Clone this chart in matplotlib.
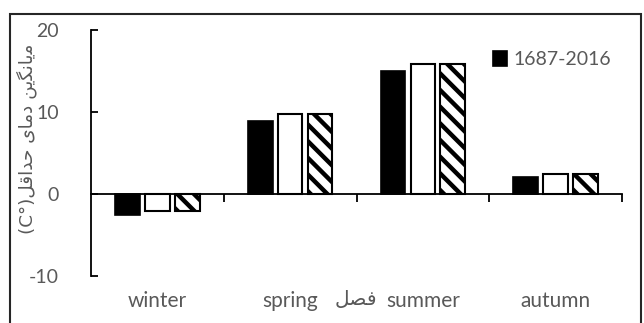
import numpy as np
import matplotlib
matplotlib.use("Agg")
import matplotlib.pyplot as plt
from matplotlib.patches import Rectangle
from matplotlib.transforms import blended_transform_factory

seasons = ["winter", "spring", "summer", "autumn"]
series_a = [-2.6, 8.9, 15.0, 2.1]   # black, 1687-2016
series_b = [-2.1, 9.8, 15.8, 2.5]   # white
series_c = [-2.1, 9.7, 15.8, 2.4]   # hatched
legend_label = "1687-2016"

# Persian text, written in visual order with presentation forms
# x label: "فصل", y label: "میانگین دمای حداقل(C°)"
xlabel_fa = "\uFEDE\uFEBC\uFED3"
ylabel_fa = ("(C°)" + "\uFEDE\uFED7\uFE8D\uFEAA\uFEA3" + " "
             + "\uFBFC\uFE8E\uFEE3\uFEA9" + " "
             + "\uFEE6\uFBFE\uFB95\uFEE7\uFE8E\uFBFE\uFEE3")

fam = ["Lato", "DejaVu Sans"]
grey = "#595959"
plt.rcParams["hatch.linewidth"] = 3.2
plt.rcParams["axes.unicode_minus"] = False

fig = plt.figure(figsize=(6.44, 3.23), dpi=100)
ax = fig.add_axes([91/644, 1-276/323, (622-91)/644, (276-30)/323])

x = np.arange(len(seasons))
w = 0.185
ax.bar(x - 0.225, series_a, w, color="black", edgecolor="black", lw=1.2, label=legend_label)
ax.bar(x, series_b, w, color="white", edgecolor="black", lw=1.5)
ax.bar(x + 0.225, series_c, w, color="white", edgecolor="black", lw=1.5, hatch="\\\\")

ax.set_xlim(-0.5, 3.5)
ax.set_ylim(-10, 20)
ax.spines["top"].set_visible(False)
ax.spines["right"].set_visible(False)
ax.spines["bottom"].set_position(("data", 0))
ax.spines["bottom"].set_linewidth(1.3)
ax.spines["left"].set_linewidth(1.3)
ax.set_xticks([0.5, 1.5, 2.5, 3.5])
ax.set_xticklabels([])
ax.tick_params(axis="x", direction="out", length=6, width=1.3)
ax.set_yticks([-10, 0, 10, 20])
ax.tick_params(axis="y", direction="in", length=5, width=1.3, pad=23,
               labelsize=14, labelcolor=grey)
for t in ax.get_yticklabels():
    t.set_family(fam)

# category labels sit low, under the plot
tr = blended_transform_factory(ax.transData, fig.transFigure)
for i, name in enumerate(seasons):
    ax.text(i, 1-301/323, name, transform=tr, ha="center", va="center",
            fontsize=15, color=grey, family=fam)
fig.text(356/644, 1-299/323, xlabel_fa, ha="center", va="center",
         fontsize=14.5, color=grey, family=["DejaVu Sans"])
fig.text(27/644, 1-139/323, ylabel_fa, ha="center", va="center", rotation=90,
         fontsize=13.2, color=grey, family=["DejaVu Sans"])

leg = ax.legend(loc="upper right", bbox_to_anchor=(1.012, 0.985), frameon=False,
                handlelength=0.75, handleheight=0.8, handletextpad=0.3,
                prop={"family": fam, "size": 14})
for t in leg.get_texts():
    t.set_color(grey)

fig.patches.append(Rectangle((10/644, -0.05), (641-10)/644, 1-14/323+0.05,
                             transform=fig.transFigure, fill=False,
                             edgecolor="#262626", lw=1.5))

fig.savefig("out.png", dpi=100)
